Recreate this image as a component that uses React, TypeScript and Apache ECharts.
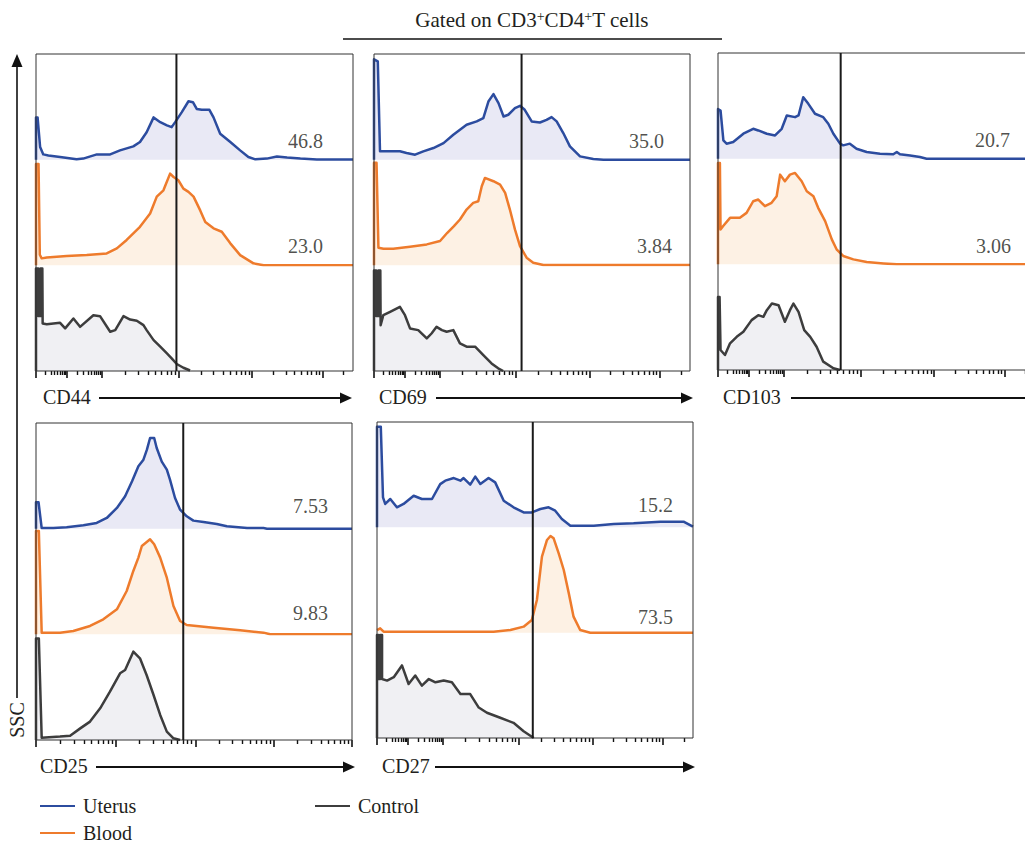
import { useEffect, useRef } from 'react';
import * as echarts from 'echarts';

type Pt = [number, number];

// ---------- data (x: % of panel width on the fluorescence axis, y: % of lane height) ----------
const markers = ['CD44', 'CD69', 'CD103', 'CD25', 'CD27'];
const groups = ['Uterus', 'Blood', 'Control'];
const uterusPercent = ['46.8', '35.0', '20.7', '7.53', '15.2'];
const bloodPercent = ['23.0', '3.84', '3.06', '9.83', '73.5'];
const gatePositions = [44.3, 46.7, 38.7, 46.6, 49.3];
const uterusLabelPos: Pt[] = [[90.5, 18], [91.8, 18], [92.1, 18], [92.4, 21], [93.7, 21]];
const bloodLabelPos: Pt[] = [[90.5, 18], [94.3, 18], [92.4, 17], [92.4, 20], [93.7, 15]];

const uterusCD44: Pt[] = [[0,0],[0,40],[0.5,40],[1.3,12],[2.3,5],[3.9,4],[7.6,2.5],[12.8,0.5],[14.9,1],[19.2,5],[23.4,5],[26.5,8.8],[30.7,12.6],[32.8,16.7],[34.9,26],[37.1,40],[39.2,35.5],[41.3,32.4],[42.8,30.8],[43.9,35.5],[46,45],[48.1,55.3],[49.5,54.4],[50.7,48],[52.3,47.2],[54.7,47.2],[56,40],[58.1,24.5],[61.3,16.7],[64.4,8.8],[67,2.5],[69.2,0.3],[72.8,1],[76,3],[79.2,2],[83.4,1],[88.6,0.2],[100,0.2]];
const bloodCD44: Pt[] = [[0,0],[0,96],[0.8,96],[1.2,10],[1.8,6.6],[3.4,7.5],[9.7,8.8],[16,9.7],[22.3,11.3],[25.5,16],[28.6,24],[32.8,36.5],[36,49],[38.1,65],[40.2,71],[42.3,86.8],[43.4,83.6],[44.9,80.5],[46.5,72.6],[48.1,69.5],[49.7,65],[51.8,52],[53.4,41],[56,35],[58.6,31.8],[61.3,20.8],[64.4,9.7],[68.6,1.9],[71.8,0],[100,0]];
const controlCD44: Pt[] = [[0,0],[0,97],[0.7,97],[0.7,52],[1.4,52],[1.4,97],[2,97],[2.1,45],[3.4,44.3],[7.6,45.6],[9.2,40.3],[11.8,49.7],[13.9,41.8],[18.1,52.8],[20.2,51.9],[23.4,37.1],[25,38.7],[27.6,51.9],[29.7,48.7],[31.8,47.5],[33.9,43.4],[34.9,38.7],[37.1,29.2],[39.2,23],[41.3,16.7],[42.8,12],[44.4,6.6],[46.5,3.1],[48.6,0.5]];

const uterusCD69: Pt[] = [[0,0],[0,95],[1.2,93],[1.9,7.9],[5.1,7.9],[8.2,7.9],[10.3,6.3],[13,4.7],[15.6,7.9],[18.8,11],[22,15.7],[25.1,23.6],[29.3,33],[32.5,36.2],[34.6,39.3],[36.2,55],[37.8,62],[39.4,53.5],[41,40.9],[42.5,42.5],[44.6,48.7],[46.2,51],[47.7,47.2],[49.9,36.2],[52.5,35.2],[54.6,37.7],[56.2,40.3],[57.8,36.2],[59.9,25.2],[62,12.6],[65.2,3.1],[69.4,0.6],[72.6,0],[100,0]];
const bloodCD69: Pt[] = [[0,0],[0,97],[0.8,97],[1.4,16.7],[3,15.7],[6.1,15.7],[11.4,17.6],[16.7,19.8],[20.9,23],[23.2,30.8],[25.3,37.1],[27.2,43.4],[29.3,52.8],[31.4,59.1],[33,60.7],[34.1,74.8],[35.1,82.7],[37.8,79.6],[39.9,76.4],[41.5,68.6],[43,52.8],[44.6,34],[46.2,18.2],[48.3,7.2],[50.4,2.5],[53.6,0.3],[100,0.3]];
const controlCD69: Pt[] = [[0,0],[0,95],[0.7,95],[0.7,52],[1.4,52],[1.4,95],[2,95],[2.1,43.4],[2.95,52.8],[5.1,56],[8.2,60.7],[9.8,52.8],[11.4,40.3],[14,38.7],[16.7,30.8],[18.2,35.5],[19.8,41.8],[21.5,38.7],[23,37.1],[25.1,38.7],[27.2,26.1],[29.3,23],[32,23],[34.6,15.1],[37.2,7.2],[39.3,2.5],[40.9,0]];

const uterusCD103: Pt[] = [[0,0],[0,47],[0.8,45.6],[1.7,17.3],[2.7,14.2],[4.8,15.7],[8,23.6],[11.1,28.3],[12.7,26.7],[15.4,23.6],[18,22],[20.1,28.3],[21.7,40.9],[24.3,39.3],[25.4,40.9],[26.9,58.2],[28.5,51.9],[30.6,42.5],[33.2,39.3],[34.8,33],[36.4,23.6],[38.5,14.2],[39.5,12.6],[41.6,14.2],[43.7,9.4],[46.9,6.3],[51.1,4.7],[55.3,4.1],[56.4,6.3],[57.4,4.1],[60.6,3.1],[63.7,1.6],[65.8,0],[100,0]];
const bloodCD103: Pt[] = [[0,0],[0,96],[0.6,96],[0.8,33],[1.7,36.5],[3.8,44],[6.9,44],[9,48.7],[11.1,59.7],[12.7,61.3],[14.8,55],[16.9,58.2],[18.5,64.5],[19.6,84.9],[21.1,78.6],[22.7,84.9],[24.3,86.5],[26.4,78.6],[28,69.2],[30.1,64.5],[31.6,53.5],[33.8,40.9],[35.9,23.6],[37.4,14.2],[39.5,7.9],[42.7,4.7],[46.9,2.2],[52.2,0.9],[56.4,0],[100,0]];
const controlCD103: Pt[] = [[0,0],[0,69],[0.5,69],[0.8,18.9],[2.2,14.2],[3.8,25.2],[5.9,31.4],[8,36.2],[10.6,47.2],[12.7,51.9],[14.3,50.3],[15.4,56.6],[17,62.9],[19.1,61.3],[21.1,45.6],[22.7,56.6],[23.8,62.9],[25.4,55],[27.2,37.7],[29.1,31.4],[31.1,22],[33.2,7.9],[36.4,1.6],[38.5,0]];

const uterusCD25: Pt[] = [[0,0],[0,25],[0.8,25],[1.8,0.6],[5.5,0.6],[9.7,1.3],[15,3.2],[19.2,5.4],[22.4,10.1],[25.6,19.6],[28.2,30.6],[30.4,44.8],[32.4,59],[34,65.3],[35.1,74.8],[36.1,85.8],[37.4,85.8],[38.2,76.3],[39.8,63.4],[41.4,55.8],[42.4,46.4],[44,29],[45.6,18],[47.7,11.7],[49.8,7.6],[53,6.3],[57.2,4.4],[60.4,2.2],[66.8,0.6],[72,0.6],[73.1,0],[100,0]];
const bloodCD25: Pt[] = [[0,0],[0,97.8],[0.9,97.8],[1.8,1.6],[7.6,1.6],[11.8,3.2],[17.1,7.9],[21.3,14.2],[25.6,23.7],[28.7,41],[30.8,60],[32.4,72.6],[33.5,83.6],[36.1,89.9],[37.4,85.2],[39.3,72.6],[41.4,53.6],[43.5,26.8],[45.6,12.6],[47.7,8.8],[56.2,6.3],[64.6,3.8],[72,1.6],[74.1,0],[100,0]];
const controlCD25: Pt[] = [[0,0],[0,96],[0.9,96],[1.8,2.2],[7.6,3.2],[10.8,4.1],[14,11],[17.1,17.4],[20.3,30],[23.4,45.7],[26.6,63.1],[28.2,66.2],[30.8,83.6],[32.9,77.3],[35,61.5],[37.2,42.6],[39.3,23.7],[41.4,7.9],[43.5,1.6],[45.6,0]];

const uterusCD27: Pt[] = [[0,0],[0,95.6],[1.2,95.6],[1.9,28.5],[2.6,22.2],[4.2,26.9],[6.3,19],[8.4,22.2],[11.6,30],[14.2,26.9],[17.4,26.9],[20,41],[21.6,44.3],[24.3,46.8],[26.4,44.3],[27.4,46.8],[29.5,40.5],[31.1,48.1],[32.7,41.1],[35.3,46.8],[37.4,42.7],[40.1,25.3],[43.2,19],[46.4,14.2],[49,14.2],[51.7,17.4],[54.3,19],[56.4,15.8],[58.5,7.9],[61.2,1.6],[68.6,1.6],[74.9,3.2],[81.2,3.8],[89.7,5.4],[97,5.4],[100,0.6]];
const bloodCD27: Pt[] = [[0,2.5],[1,4.1],[2.1,0.9],[26.4,0.9],[36.9,0.9],[42.2,2.5],[46.4,5.7],[49,12],[50.6,31],[52.2,72.2],[53.8,88],[54.9,91.8],[55.9,89.6],[57.5,75.3],[59.1,59.5],[60.7,37.3],[62.2,15.2],[64.3,2.5],[67.5,0],[100,0]];
const controlCD27: Pt[] = [[0,0],[0,97.8],[0.5,97.8],[0.5,56],[1,56],[1,97.8],[1.6,97.8],[1.6,56],[3.2,54.5],[5.3,57.7],[7.9,68.9],[10,51.3],[12.1,59.3],[14.2,49.7],[16.4,56],[18.5,52.9],[21.1,54.5],[23.7,52.9],[26.4,41.7],[29.5,41.7],[32.2,28.9],[34.8,24],[39,19.2],[43.2,14.4],[46.4,6.4],[49.6,0]];

const uterusCurves = [uterusCD44, uterusCD69, uterusCD103, uterusCD25, uterusCD27];
const bloodCurves = [bloodCD44, bloodCD69, bloodCD103, bloodCD25, bloodCD27];
const controlCurves = [controlCD44, controlCD69, controlCD103, controlCD25, controlCD27];

// decade boundaries of the axes (in % of panel width)
const biexDecades = [0, 9.8, 20.8, 45.0, 68.2, 90.4, 112.6];
const logDecades = [0, 25.2, 50.4, 75.2, 100];
const axisKind = ['biex', 'biex', 'biex', 'log', 'biex'];

// ---------- layout & styles ----------
const FONT = '"Liberation Serif", "Times New Roman", serif';
const TEXT = '#231f20';
const LINE_COLORS = ['#2c4c9f', '#ee7b2c', '#3d3d3d'];
const FILL_COLORS = ['#e9e9f5', '#fdf1e4', '#f0f0f3'];
const PANELS = [
  { left: 36, top: 54, width: 317, height: 317, labelY: 397, textX: 43, arrowFrom: 99, arrowTo: 352 },
  { left: 374, top: 54, width: 316, height: 317, labelY: 397, textX: 379, arrowFrom: 436, arrowTo: 693 },
  { left: 718, top: 53, width: 317, height: 317, labelY: 397, textX: 723, arrowFrom: 791, arrowTo: 1040 },
  { left: 36, top: 423, width: 316, height: 317, labelY: 766, textX: 40, arrowFrom: 96, arrowTo: 355 },
  { left: 377, top: 422, width: 316, height: 316, labelY: 766, textX: 382, arrowFrom: 435, arrowTo: 695 },
];

function ticksFor(decades: number[]) {
  const major: number[] = [];
  const minor: number[] = [];
  for (let i = 0; i < decades.length - 1; i++) {
    const a = decades[i];
    const b = decades[i + 1];
    if (a <= 100) major.push(a);
    for (let k = 2; k <= 9; k++) {
      const v = a + Math.log10(k) * (b - a);
      if (v <= 100) minor.push(+v.toFixed(2));
    }
  }
  if (decades[decades.length - 1] <= 100) major.push(decades[decades.length - 1]);
  return { major, minor };
}

function buildOption() {
  const grid: any[] = [];
  const xAxis: any[] = [];
  const yAxis: any[] = [];
  const series: any[] = [];
  const graphic: any[] = [];
  const curveSets = [uterusCurves, bloodCurves, controlCurves];
  const labels = [uterusPercent, bloodPercent];
  const labelPos = [uterusLabelPos, bloodLabelPos];

  PANELS.forEach((p, i) => {
    const laneH = p.height / 3;
    for (let l = 0; l < 3; l++) {
      const gi = grid.length;
      grid.push({ left: p.left, top: p.top + l * laneH, width: p.width, height: laneH, show: false, outerBoundsMode: 'none' });
      const xi = xAxis.length;
      xAxis.push({ type: 'value', gridIndex: gi, min: 0, max: 100, show: false });
      const yi = yAxis.length;
      yAxis.push({ type: 'value', gridIndex: gi, min: 0, max: 100, show: false });
      series.push({
        type: 'line',
        name: groups[l],
        xAxisIndex: xi,
        yAxisIndex: yi,
        data: curveSets[l][i],
        showSymbol: false,
        symbol: 'none',
        color: LINE_COLORS[l],
        lineStyle: { color: LINE_COLORS[l], width: 2.5, join: 'round' },
        areaStyle: { color: FILL_COLORS[l], opacity: 1 },
        silent: true,
        z: 2,
      });
      if (l < 2) {
        series.push({
          type: 'scatter',
          xAxisIndex: xi,
          yAxisIndex: yi,
          symbolSize: 0,
          silent: true,
          data: [[labelPos[l][i][0], labelPos[l][i][1], labels[l][i]]],
          label: {
            show: true,
            position: 'left',
            distance: 0,
            formatter: (d: any) => d.value[2],
            fontFamily: FONT,
            fontSize: 20,
            color: TEXT,
          },
          z: 4,
        });
      }
    }
    const gi = grid.length;
    grid.push({ left: p.left, top: p.top, width: p.width, height: p.height, show: true, borderColor: '#333', borderWidth: 1, backgroundColor: 'transparent', outerBoundsMode: 'none', z: 3 });
    const t = ticksFor(axisKind[i] === 'log' ? logDecades : biexDecades);
    const xMajor = xAxis.length;
    xAxis.push({
      type: 'value', gridIndex: gi, min: 0, max: 100, position: 'bottom',
      axisLine: { show: false }, axisLabel: { show: false }, splitLine: { show: false },
      axisTick: { show: true, length: 7, customValues: t.major, lineStyle: { color: '#111', width: 1.6 } },
    });
    xAxis.push({
      type: 'value', gridIndex: gi, min: 0, max: 100, position: 'bottom', offset: 0,
      axisLine: { show: false }, axisLabel: { show: false }, splitLine: { show: false },
      axisTick: { show: true, length: 4, customValues: t.minor, lineStyle: { color: '#111', width: 1.4 } },
    });
    const yi = yAxis.length;
    yAxis.push({ type: 'value', gridIndex: gi, min: 0, max: 100, show: false });
    series.push({
      type: 'line',
      xAxisIndex: xMajor,
      yAxisIndex: yi,
      data: [[gatePositions[i], 0], [gatePositions[i], 100]],
      showSymbol: false,
      symbol: 'none',
      lineStyle: { color: '#1a1a1a', width: 2 },
      silent: true,
      z: 5,
    });

    graphic.push({
      type: 'text', x: p.textX, y: p.labelY,
      style: { text: markers[i], fontFamily: FONT, fontSize: 20, fill: TEXT, align: 'left', verticalAlign: 'middle' },
    });
    graphic.push({
      type: 'line', shape: { x1: p.arrowFrom, y1: p.labelY + 1, x2: p.arrowTo - 10, y2: p.labelY + 1 },
      style: { stroke: '#111', lineWidth: 1.8 },
    });
    graphic.push({
      type: 'polygon',
      shape: { points: [[p.arrowTo, p.labelY + 1], [p.arrowTo - 12, p.labelY - 4.5], [p.arrowTo - 12, p.labelY + 6.5]] },
      style: { fill: '#111' },
    });
  });

  graphic.push({
    type: 'text', x: 532, y: 20,
    style: {
      text: '{a|Gated on CD3}{s|+}{a|CD4}{s|+}{a|T cells}',
      align: 'center', verticalAlign: 'middle',
      rich: {
        a: { fontFamily: FONT, fontSize: 21, fill: TEXT, color: TEXT },
        s: { fontFamily: FONT, fontSize: 14, fill: TEXT, color: TEXT, verticalAlign: 'top' },
      },
    },
  });
  graphic.push({ type: 'line', shape: { x1: 343, y1: 39, x2: 722, y2: 39 }, style: { stroke: '#111', lineWidth: 1.6 } });

  graphic.push({ type: 'line', shape: { x1: 17, y1: 64, x2: 17, y2: 698 }, style: { stroke: '#111', lineWidth: 1.6 } });
  graphic.push({ type: 'polygon', shape: { points: [[17, 54], [11.5, 67], [22.5, 67]] }, style: { fill: '#111' } });
  graphic.push({
    type: 'text', x: 17, y: 720, rotation: Math.PI / 2,
    style: { text: 'SSC', fontFamily: FONT, fontSize: 20, fill: TEXT, align: 'center', verticalAlign: 'middle' },
  });

  const legendBase = {
    icon: 'rect', itemWidth: 35, itemHeight: 2, selectedMode: false, orient: 'horizontal',
    textStyle: { fontFamily: FONT, fontSize: 20, color: TEXT, padding: [0, 0, 0, 3] },
  };

  return {
    animation: false,
    backgroundColor: '#ffffff',
    grid,
    xAxis,
    yAxis,
    series,
    graphic,
    legend: [
      { ...legendBase, data: ['Uterus'], left: 35, top: 791 },
      { ...legendBase, data: ['Blood'], left: 35, top: 818 },
      { ...legendBase, data: ['Control'], left: 310, top: 791 },
    ],
  };
}

export default function App() {
  const ref = useRef<HTMLDivElement>(null);
  useEffect(() => {
    if (!ref.current) return;
    const chart = echarts.init(ref.current, undefined, { renderer: 'svg' });
    chart.setOption(buildOption() as any);
    return () => chart.dispose();
  }, []);
  return (
    <div
      ref={ref}
      style={{ position: 'absolute', left: 0, top: 0, width: 1025, height: 843, background: '#fff' }}
    />
  );
}
